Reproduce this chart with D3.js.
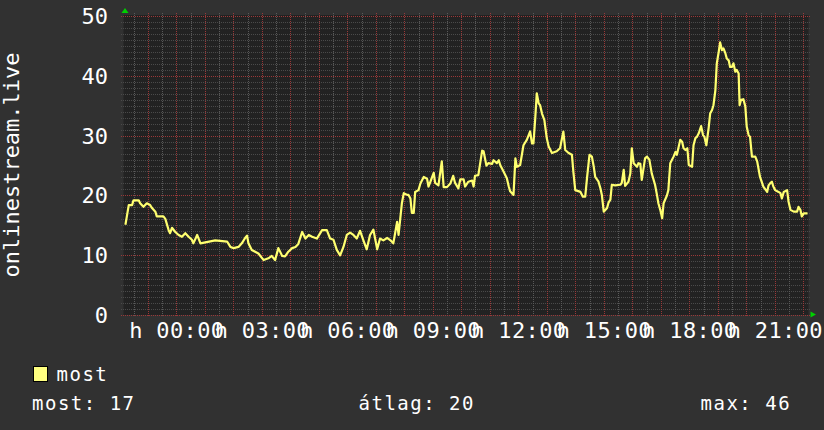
<!DOCTYPE html>
<html>
<head>
<meta charset="utf-8">
<script src="https://cdn.jsdelivr.net/npm/d3@7"></script>
<style>
  body { margin: 0; background: #313131; }
  svg { display: block; }
  text { font-family: "DejaVu Sans Mono", monospace; fill: #ffffff; }
</style>
</head>
<body>
<script>
// minutes from midnight (monday)
var minutes = [
  -107,-104,-100,-93,-90,-79,-76,-69,-62,-55, -51,-44,-41,-27,-23,-16,-13,-9,-2,5,
  12,19,26,33,36,44,51,82,107,114, 121,131,138,145,149,152,159,166,173,184,
  194,201,208,215,223,229,236,244,251,257, 265,272,279,286,296,307,317,324,331,338,
  345,352,359,366,373,380,387,394,401,408, 415,423,429,436,444,451,457,465,468,475,
  479,486,
  489,493,496,500,503,510,514,521,528,531, 535,542,545,552,559,563,570,577,583,587,
  594,598,605,608,615,623,626,629,636,644, 647,653,657,665,668,675,679,682,689,696,
  700,703,710,714,717,724,731,738,745,749, 752,756,759,763,766,770,775,780,784,791,
  801,808,815,819,826,833,836,840,851,856, 861,865,870,875,879,882,889,893,896,900,
  907,910,914,917,924,935,938,942,945,952, 956,959,963,970,973,977,980,987,991,996,
  1001,1008,1012,1015,1019,1023,1026,1033,1036,1040, 1047,1051,1054,1061,1065,1068,1072,1076,1079,1086,
  1089,1093,1096,1100,1105,1109,1112,1116,1121,1124, 1128,1131,1135,1138,1142,1145,1149,1152,1156,1159,
  1163,1166,1170,1173,1177,1180,1184,1186,1189,1194, 1198,1201,1205,1208,1212,1219,1223,1229,1236,1244,
  1247,1251,1254,1257,1261,1268,1272,1275,1279,1286, 1289,1293,1300,1307,1310,1314,1317,1321,1329
];
var most = [
  15.0,16.4,18.3,18.3,19.1,19.1,18.6,18.0,18.6,18.3, 17.8,17.2,16.4,16.4,16.0,14.1,13.6,14.5,13.8,13.3,
  13.0,13.6,13.0,12.5,11.9,13.3,11.9,12.4,12.2,11.3, 11.1,11.3,11.9,12.8,13.2,11.9,10.8,10.5,10.2,9.1,
  9.4,9.8,9.1,11.1,9.8,9.7,10.5,11.1,11.3,11.8, 13.8,12.7,13.3,13.0,12.7,14.1,14.1,12.7,12.5,10.8,
  9.9,11.3,13.3,13.7,13.3,12.7,14.0,12.4,10.9,13.3, 14.2,10.9,12.7,12.4,12.8,12.4,11.9,15.5,13.3,18.6,
  20.3,20.0,
  20.0,19.4,17.0,17.0,20.5,20.8,21.9,23.0,22.7,21.4, 22.2,23.7,22.0,21.6,25.6,21.3,21.3,21.9,23.2,22.0,
  21.1,22.6,22.6,21.4,22.2,22.4,21.4,23.2,23.3,27.4, 27.3,24.9,25.3,25.2,25.8,25.3,25.8,25.0,23.9,22.8,
  21.4,20.6,20.0,26.1,24.7,25.0,28.3,29.2,30.6,28.6, 28.6,33.1,37.0,35.3,35.0,33.6,32.5,29.5,28.1,27.0,
  27.3,27.8,30.6,27.5,27.0,26.7,23.9,20.8,20.5,19.7, 19.7,23.0,26.7,26.4,24.7,23.0,22.2,21.1,20.0,17.2,
  17.8,18.7,19.2,21.7,21.6,21.7,22.0,24.2,21.5,22.2, 23.6,27.8,25.3,24.7,25.3,25.2,22.5,26.1,26.4,25.9,
  23.6,21.7,20.0,18.6,17.5,16.1,18.6,19.9,20.8,25.3, 26.4,27.2,26.7,29.2,28.9,27.8,27.5,27.8,25.0,24.7,
  28.3,29.5,29.7,30.3,31.5,30.0,29.7,28.3,31.3,33.6, 34.2,35.0,37.5,42.0,43.9,45.5,44.2,44.5,43.7,42.8,
  42.5,41.4,41.4,42.0,40.6,40.9,40.3,35.0,35.9,36.0, 34.8,31.4,30.0,29.7,26.4,26.4,25.6,23.0,21.4,20.5,
  21.6,22.0,22.2,21.4,20.8,20.5,20.3,19.4,20.5,20.8, 18.9,17.5,17.2,17.2,18.0,17.5,16.4,16.9,16.9
];
var yTicks = [0, 10, 20, 30, 40, 50];
var statNames = ["most", "átlag", "max"];
var statValues = [17, 20, 46];
var seriesName = "most";
var yTitle = "onlinestream.live";
var rangeMinutes = [-110, 1330];   // graph window: 22:10 .. 22:10

var margin = {top: 15.5, right: 16, bottom: 115.5, left: 124},
    width = 824 - margin.left - margin.right,
    height = 430 - margin.top - margin.bottom;

var svg = d3.select("body").append("svg")
    .attr("width", 824)
    .attr("height", 430);

svg.append("rect").attr("width", 824).attr("height", 430).attr("fill", "#313131");

var g = svg.append("g")
    .attr("transform", "translate(" + margin.left + "," + margin.top + ")");

// hungarian short weekdays: hétfő -> "h"
var hu = d3.timeFormatLocale({
  dateTime: "%Y. %B %-e. %X", date: "%Y. %m. %d.", time: "%H:%M:%S", periods: ["de.", "du."],
  days: ["vasárnap","hétfő","kedd","szerda","csütörtök","péntek","szombat"],
  shortDays: ["v","h","k","sze","cs","p","szo"],
  months: ["január","február","március","április","május","június","július","augusztus","szeptember","október","november","december"],
  shortMonths: ["jan","feb","már","ápr","máj","jún","júl","aug","szep","okt","nov","dec"]
});
var fmt = hu.utcFormat("%a %H:%M");

var day0 = Date.UTC(2024, 0, 1); // a monday
function t(m) { return new Date(day0 + m * 60000); }

var data = minutes.map(function(m, i) { return {time: t(m), value: most[i]}; });

var x = d3.scaleUtc().domain([t(rangeMinutes[0]), t(rangeMinutes[1])]).range([0, width]);
var y = d3.scaleLinear().domain([0, 50]).range([height, 0]);

g.append("rect")
    .attr("x", -0.5).attr("y", -0.5)
    .attr("width", width + 1).attr("height", height + 1)
    .attr("fill", "#222222");

function px(v) { return Math.round(v) + 0.5; }

// grid: minor every 30 min / every unit, major every hour / every 10
var minorX = x.ticks(d3.utcMinute.every(30)).filter(function(d) { return d.getUTCMinutes() !== 0; });
var majorX = x.ticks(d3.utcHour.every(1));
var minorY = d3.range(0, 51).filter(function(v) { return v % 10 !== 0; });

var grid = g.append("g").attr("shape-rendering", "crispEdges");

grid.selectAll(".miny").data(minorY).enter().append("line")
    .attr("y1", function(d) { return px(y(d)); }).attr("y2", function(d) { return px(y(d)); })
    .attr("x1", -3).attr("x2", width + 3)
    .attr("stroke", "#4a4a4a").attr("stroke-dasharray", "1,1");

grid.selectAll(".minx").data(minorX).enter().append("line")
    .attr("x1", function(d) { return px(x(d)); }).attr("x2", function(d) { return px(x(d)); })
    .attr("y1", -3).attr("y2", height + 1)
    .attr("stroke", "#5a5a5a").attr("stroke-dasharray", "1,1");

grid.selectAll(".majx").data(majorX).enter().append("line")
    .attr("x1", function(d) { return px(x(d)); }).attr("x2", function(d) { return px(x(d)); })
    .attr("y1", -3).attr("y2", height + 1)
    .attr("stroke", "#9a3838").attr("stroke-dasharray", "1,1");

grid.selectAll(".majy").data(yTicks).enter().append("line")
    .attr("y1", function(d) { return px(y(d)); }).attr("y2", function(d) { return px(y(d)); })
    .attr("x1", -3).attr("x2", width + 3)
    .attr("stroke", "#9a3838").attr("stroke-dasharray", "1,1");

// axes (labels only)
var yAxis = g.append("g")
    .call(d3.axisLeft(y).tickValues(yTicks).tickSize(0).tickPadding(16));
yAxis.select(".domain").remove();
yAxis.selectAll("text")
    .style("font-family", "DejaVu Sans Mono").style("font-size", "22px")
    .attr("fill", "#fff").attr("dy", "0.36em");

var xAxis = g.append("g")
    .attr("transform", "translate(0," + height + ")")
    .call(d3.axisBottom(x).ticks(d3.utcHour.every(3)).tickFormat(fmt).tickSize(0));
xAxis.select(".domain").remove();
xAxis.selectAll("text")
    .style("font-family", "DejaVu Sans Mono").style("font-size", "22px")
    .style("letter-spacing", "0.35px")
    .attr("fill", "#fff").attr("y", 23.5).attr("dy", 0);

// the series
var line = d3.line()
    .x(function(d) { return x(d.time); })
    .y(function(d) { return y(d.value); });

g.append("path")
    .datum(data)
    .attr("d", line)
    .attr("fill", "none")
    .attr("stroke", "#ffff70")
    .attr("stroke-width", 2.2)
    .attr("stroke-linejoin", "round");

// arrows
g.append("path")
    .attr("d", "M1,-7.5 L-2.5,-2.5 L4.5,-2.5 Z")
    .attr("fill", "#00d000");
g.append("path")
    .attr("d", "M" + (width + 2.5) + "," + (height - 3) + " L" + (width + 8) + "," + height +
               " L" + (width + 2.5) + "," + (height + 3) + " Z")
    .attr("fill", "#00d000");

// y title
svg.append("text")
    .attr("transform", "translate(18.5," + (margin.top + height / 2) + ") rotate(-90)")
    .attr("text-anchor", "middle")
    .style("font-size", "22px")
    .text(yTitle);

// legend
svg.append("rect")
    .attr("x", 33.5).attr("y", 366.5).attr("width", 14).attr("height", 15)
    .attr("fill", "#ffff80").attr("stroke", "#000").attr("stroke-width", 1);
svg.append("text")
    .attr("x", 56.5).attr("y", 381)
    .style("font-size", "19px").style("letter-spacing", "1.5px")
    .text(seriesName);

var statX = [32, 358.5, 700.5];
svg.selectAll(".stat").data(statNames).enter().append("text")
    .attr("x", function(d, i) { return statX[i]; })
    .attr("y", 409.5)
    .style("font-size", "19px").style("letter-spacing", "1.5px")
    .text(function(d, i) { return d + ": " + statValues[i]; });
</script>
</body>
</html>
